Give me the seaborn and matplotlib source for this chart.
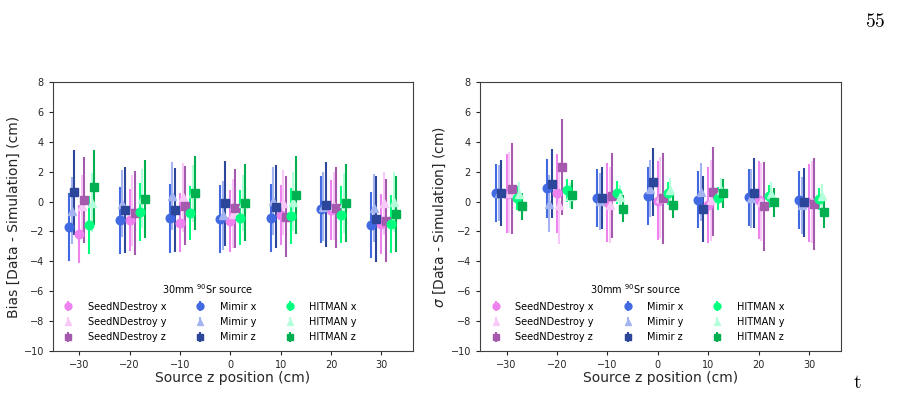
import numpy as np
import pandas as pd
import matplotlib
matplotlib.use("Agg")
import matplotlib.pyplot as plt
import seaborn as sns

# source positions (cm)
z_pos = [-30, -20, -10, 0, 10, 20, 30]

algos = ["SeedNDestroy", "Mimir", "HITMAN"]
coords = ["x", "y", "z"]

# bias [data - simulation] (cm) and its errors
bias_snd_x = [-2.19, -1.23, -1.41, -1.30, -0.90, -0.56, -1.52]
bias_snd_x_err = [1.95, 2.05, 1.95, 2.05, 2.00, 2.00, 2.00]
bias_snd_y = [-0.29, -0.60, 0.28, -0.80, -0.07, -0.30, -0.12]
bias_snd_y_err = [2.05, 2.35, 2.30, 2.30, 2.20, 2.30, 2.10]
bias_snd_z = [0.10, -0.77, -0.29, -0.45, -1.00, -0.40, -1.28]
bias_snd_z_err = [2.90, 2.80, 2.65, 2.65, 2.72, 2.70, 2.78]
bias_mim_x = [-1.68, -1.25, -1.12, -1.14, -1.10, -0.52, -1.57]
bias_mim_x_err = [2.27, 2.25, 2.29, 2.27, 2.26, 2.25, 2.23]
bias_mim_y = [-0.61, -0.15, 0.37, -0.92, 0.04, -0.35, -0.43]
bias_mim_y_err = [2.25, 2.25, 2.30, 2.30, 2.30, 2.30, 2.25]
bias_mim_z = [0.62, -0.58, -0.56, -0.12, -0.34, -0.20, -1.14]
bias_mim_z_err = [2.83, 2.88, 2.80, 2.85, 2.80, 2.87, 2.88]
bias_hit_x = [-1.59, -0.71, -0.74, -1.08, -0.96, -0.87, -1.50]
bias_hit_x_err = [1.95, 1.93, 1.80, 1.84, 1.87, 1.92, 1.92]
bias_hit_y = [-0.07, 0.20, 0.55, -0.10, 0.00, -0.10, -0.05]
bias_hit_y_err = [2.00, 1.95, 1.90, 1.90, 1.95, 2.00, 2.00]
bias_hit_z = [0.96, 0.17, 0.58, -0.07, 0.46, -0.09, -0.81]
bias_hit_z_err = [2.50, 2.58, 2.50, 2.60, 2.60, 2.60, 2.55]

# sigma [data - simulation] (cm) and its errors
sig_snd_x = [0.52, 0.55, -0.06, 0.06, -0.23, 0.10, -0.10]
sig_snd_x_err = [2.65, 2.65, 2.65, 2.65, 2.57, 2.60, 2.60]
sig_snd_y = [0.60, -0.26, -0.21, 0.26, 0.08, -0.03, -0.03]
sig_snd_y_err = [2.70, 2.60, 2.55, 2.70, 2.70, 2.60, 2.75]
sig_snd_z = [0.86, 2.29, 0.39, 0.21, 0.66, -0.32, -0.17]
sig_snd_z_err = [3.05, 3.22, 2.86, 3.05, 2.98, 2.96, 3.10]
sig_mim_x = [0.57, 0.90, 0.23, 0.37, 0.12, 0.28, 0.10]
sig_mim_x_err = [1.96, 1.98, 1.96, 1.96, 1.90, 1.90, 1.92]
sig_mim_y = [0.57, -0.15, 0.03, 0.86, 0.64, 0.21, -0.26]
sig_mim_y_err = [1.90, 1.90, 1.90, 1.90, 1.95, 1.95, 1.90]
sig_mim_z = [0.56, 1.20, 0.26, 1.29, -0.50, 0.57, -0.06]
sig_mim_z_err = [2.20, 2.30, 2.08, 2.27, 2.20, 2.35, 2.32]
sig_hit_x = [0.23, 0.75, 0.59, 0.55, 0.21, 0.35, 0.15]
sig_hit_x_err = [0.78, 0.76, 0.77, 0.77, 0.76, 0.76, 0.73]
sig_hit_y = [0.50, 0.40, 0.30, 0.75, 0.75, 0.50, 0.35]
sig_hit_y_err = [0.80, 0.85, 0.80, 0.80, 0.80, 0.80, 0.80]
sig_hit_z = [-0.32, 0.46, -0.48, -0.23, 0.55, -0.06, -0.70]
sig_hit_z_err = [0.90, 0.98, 0.90, 0.87, 0.99, 0.95, 1.08]

bias = {
    ("SeedNDestroy", "x"): (bias_snd_x, bias_snd_x_err),
    ("SeedNDestroy", "y"): (bias_snd_y, bias_snd_y_err),
    ("SeedNDestroy", "z"): (bias_snd_z, bias_snd_z_err),
    ("Mimir", "x"): (bias_mim_x, bias_mim_x_err),
    ("Mimir", "y"): (bias_mim_y, bias_mim_y_err),
    ("Mimir", "z"): (bias_mim_z, bias_mim_z_err),
    ("HITMAN", "x"): (bias_hit_x, bias_hit_x_err),
    ("HITMAN", "y"): (bias_hit_y, bias_hit_y_err),
    ("HITMAN", "z"): (bias_hit_z, bias_hit_z_err),
}
sigma = {
    ("SeedNDestroy", "x"): (sig_snd_x, sig_snd_x_err),
    ("SeedNDestroy", "y"): (sig_snd_y, sig_snd_y_err),
    ("SeedNDestroy", "z"): (sig_snd_z, sig_snd_z_err),
    ("Mimir", "x"): (sig_mim_x, sig_mim_x_err),
    ("Mimir", "y"): (sig_mim_y, sig_mim_y_err),
    ("Mimir", "z"): (sig_mim_z, sig_mim_z_err),
    ("HITMAN", "x"): (sig_hit_x, sig_hit_x_err),
    ("HITMAN", "y"): (sig_hit_y, sig_hit_y_err),
    ("HITMAN", "z"): (sig_hit_z, sig_hit_z_err),
}

# horizontal offsets so the points don't sit on top of each other
offsets = {
    ("Mimir", "x"): -2, ("Mimir", "y"): -1.5, ("Mimir", "z"): -1,
    ("SeedNDestroy", "x"): 0, ("SeedNDestroy", "y"): 0.5, ("SeedNDestroy", "z"): 1,
    ("HITMAN", "x"): 2, ("HITMAN", "y"): 2.5, ("HITMAN", "z"): 3,
}
colors = {
    ("SeedNDestroy", "x"): "#ee82ee", ("SeedNDestroy", "y"): "#f8c8f8", ("SeedNDestroy", "z"): "#a55aad",
    ("Mimir", "x"): "#4169e1", ("Mimir", "y"): "#a3b4f0", ("Mimir", "z"): "#2c4699",
    ("HITMAN", "x"): "#00ff7f", ("HITMAN", "y"): "#b3ffd9", ("HITMAN", "z"): "#00b050",
}
markers = {"x": "o", "y": "^", "z": "s"}

sns.set_style("ticks")
plt.rcParams["font.family"] = ["DejaVu Sans"]
plt.rcParams["axes.edgecolor"] = "#404040"
plt.rcParams["text.color"] = "black"

fig = plt.figure(figsize=(9.04, 4.0), dpi=100)
ax1 = fig.add_axes([0.0586, 0.1225, 0.398, 0.6725])
ax2 = fig.add_axes([0.531, 0.1225, 0.399, 0.6725])

def draw(ax, data, ylabel):
    for a in algos:
        for c in coords:
            vals, errs = data[(a, c)]
            xs = np.array(z_pos) + offsets[(a, c)]
            ax.errorbar(xs, vals, yerr=errs, fmt=markers[c], color=colors[(a, c)],
                        ms=6.2, elinewidth=1.5, capsize=0, label=f"{a} {c}")
    ax.set_ylim(-10, 8)
    ax.set_yticks(np.arange(-10, 9, 2))
    ax.set_xticks(z_pos)
    ax.tick_params(labelsize=7, length=3)
    ax.set_xlabel("Source z position (cm)", fontsize=10, labelpad=1)
    ax.set_ylabel(ylabel, fontsize=10, labelpad=2)
    ax.legend(ncol=3, loc="lower center", bbox_to_anchor=(0.43, 0.0), frameon=False,
              fontsize=7, title="30mm $^{90}$Sr source", title_fontsize=7,
              columnspacing=2.5, handletextpad=1.0, labelspacing=0.55, markerscale=0.8)

draw(ax1, bias, "Bias [Data - Simulation] (cm)")
draw(ax2, sigma, r"$\sigma$ [Data - Simulation] (cm)")

# page artefacts of the scanned page
fig.text(0.98, 0.97, r"$\mathrm{55}$", fontsize=14, math_fontfamily="cm", ha="right", va="top")
fig.text(0.948, 0.02, r"$\mathrm{t}$", fontsize=14, math_fontfamily="cm", ha="center", va="bottom")

fig.savefig("out.png", dpi=100)
